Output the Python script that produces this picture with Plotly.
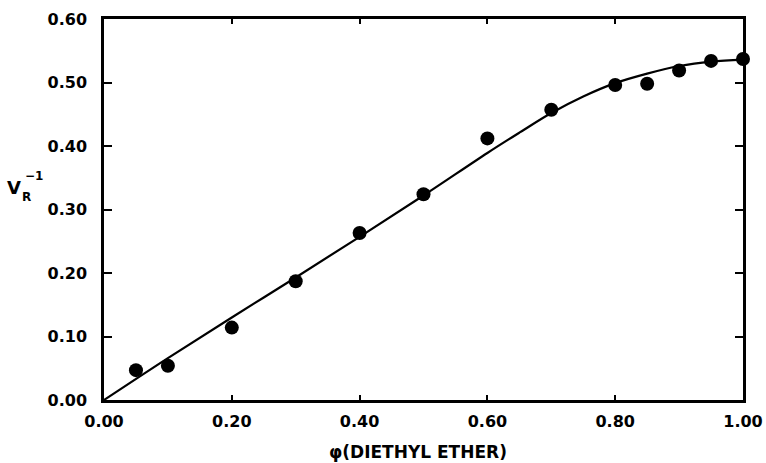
import plotly.graph_objects as go

# measured points
phi_pts = [0.05, 0.10, 0.20, 0.30, 0.40, 0.50, 0.60, 0.70, 0.80, 0.85, 0.90, 0.95, 1.00]
vr_pts = [0.047, 0.054, 0.114, 0.187, 0.263, 0.324, 0.412, 0.457, 0.496, 0.498, 0.519, 0.534, 0.537]

# fitted curve
phi_curve = [0.0, 0.10, 0.20, 0.30, 0.40, 0.50, 0.60, 0.65, 0.70, 0.75, 0.80, 0.85, 0.90, 0.95, 1.00]
vr_curve = [0.0, 0.066, 0.130, 0.193, 0.257, 0.322, 0.389, 0.421, 0.452, 0.478, 0.499, 0.514, 0.526, 0.533, 0.536]

x_ticks = [0.0, 0.2, 0.4, 0.6, 0.8, 1.0]
y_ticks = [0.0, 0.1, 0.2, 0.3, 0.4, 0.5, 0.6]

FONT = "DejaVu Sans"

fig = go.Figure()
fig.add_trace(go.Scatter(x=phi_curve, y=vr_curve, mode="lines",
                         line=dict(color="black", width=2.2, shape="spline", smoothing=1.0),
                         hoverinfo="skip", showlegend=False, cliponaxis=False))
fig.add_trace(go.Scatter(x=phi_pts, y=vr_pts, mode="markers",
                         marker=dict(color="black", size=14),
                         showlegend=False, cliponaxis=False))

axis_common = dict(showline=True, linecolor="black", linewidth=2.5, mirror="ticks",
                   ticks="inside", tickcolor="black", tickwidth=2,
                   showgrid=False, zeroline=False,
                   tickfont=dict(family=FONT, size=16, color="black", weight="bold"))

fig.update_xaxes(range=[0, 1.0], tickvals=x_ticks, tickformat=".2f", ticklen=5,
                 ticklabelstandoff=5, automargin=False, **axis_common)
fig.update_yaxes(range=[0, 0.6], tickvals=y_ticks, tickformat=".2f", ticklen=8,
                 ticklabelstandoff=11, automargin=False, **axis_common)

W, H = 766, 463
l, r, t, b = 104, 23, 19, 63
pw, ph = W - l - r, H - t - b


def px(x, y):
    return (x - l) / pw, (H - b - y) / ph


def ann(text, x, y, size):
    ax, ay = px(x, y)
    return dict(text=text, x=ax, y=ay, xref="paper", yref="paper", showarrow=False,
                font=dict(family=FONT, size=size, color="black", weight="bold"),
                xanchor="center", yanchor="middle")


fig.update_layout(
    width=W, height=H,
    margin=dict(l=l, r=r, t=t, b=b, autoexpand=False),
    plot_bgcolor="white", paper_bgcolor="white",
    annotations=[
        ann("φ(DIETHYL ETHER)", 418, 452, 17),
        ann("V", 14, 188, 18),
        ann("R", 26, 197, 12),
        ann("−1", 34, 176, 12),
    ],
)

fig.write_html("out.html")
